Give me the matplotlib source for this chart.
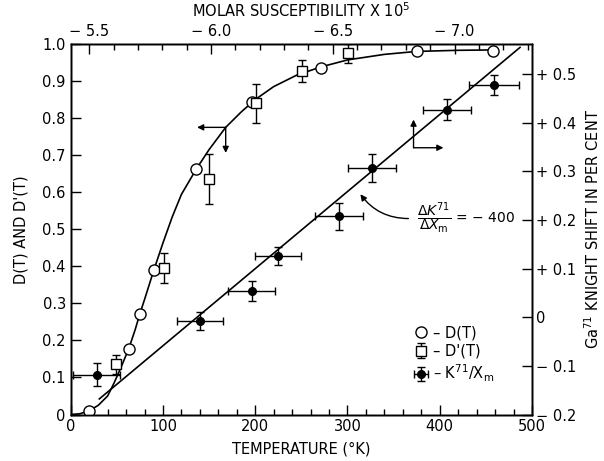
import matplotlib
matplotlib.use("Agg")
import matplotlib.pyplot as plt
from matplotlib.ticker import MultipleLocator, FixedLocator

# === DATA ===
# D(T) open circles
dt_temp = [20, 63, 75, 90, 136, 196, 271, 375, 458]
dt_val = [0.01, 0.178, 0.272, 0.389, 0.662, 0.843, 0.936, 0.98, 0.98]

# D'(T) squares with vertical error bars
dp_temp = [49, 101, 150, 201, 251, 301]
dp_val = [0.135, 0.395, 0.636, 0.84, 0.927, 0.975]
dp_err = [0.025, 0.04, 0.068, 0.053, 0.03, 0.025]

# K71 / Xm points on right axis (per cent)
k_temp = [28, 140, 196, 225, 291, 327, 408, 459]
k_val = [-0.118, -0.008, 0.054, 0.126, 0.208, 0.307, 0.427, 0.478]
k_xerr = [25, 25, 25, 25, 26, 26, 26, 27]
k_yerr = [0.024, 0.019, 0.02, 0.019, 0.028, 0.028, 0.021, 0.02]

# hand drawn curve through D(T)
curve_temp = [0, 10, 20, 30, 40, 47, 55, 63, 70, 75, 80, 90, 100, 110, 120,
              136, 150, 168, 185, 200, 220, 245, 271, 300, 340, 375, 420, 458]
curve_val = [0.0, 0.002, 0.01, 0.025, 0.05, 0.085, 0.13, 0.178, 0.23, 0.272,
             0.31, 0.389, 0.463, 0.533, 0.594, 0.662, 0.715, 0.775, 0.817,
             0.85, 0.885, 0.916, 0.938, 0.957, 0.972, 0.98, 0.983, 0.984]

# straight line through K points
line_temp = [31, 487]
line_val = [-0.168, 0.555]

# axis ranges / ticks
T_RANGE = (0, 500)
D_RANGE = (0, 1.0)
K_RANGE = (-0.2, 0.562)
CHI_RANGE = (-5.424, -7.318)

d_ticks = [0, 0.1, 0.2, 0.3, 0.4, 0.5, 0.6, 0.7, 0.8, 0.9, 1.0]
d_labels = ["0", "0.1", "0.2", "0.3", "0.4", "0.5", "0.6", "0.7", "0.8", "0.9", "1.0"]
k_ticks = [-0.2, -0.1, 0, 0.1, 0.2, 0.3, 0.4, 0.5]
k_labels = ["\u2212 0.2", "\u2212 0.1", "0", "+ 0.1", "+ 0.2", "+ 0.3", "+ 0.4", "+ 0.5"]
chi_ticks = [-5.5, -6.0, -6.5, -7.0]
chi_labels = ["\u2212 5.5", "\u2212 6.0", "\u2212 6.5", "\u2212 7.0"]

plt.rcParams['font.family'] = ['DejaVu Sans']
plt.rcParams['mathtext.fontset'] = 'dejavusans'
FS = 10.5

fig = plt.figure(figsize=(6.04, 4.61), dpi=100)
ax = fig.add_axes([70.7 / 604, 1 - 414.5 / 461, (532 - 70.7) / 604, (414.5 - 44) / 461])
ax2 = ax.twinx()
axt = ax.twiny()

# --- left axis: D(T), D'(T) ---
ax.plot(curve_temp, curve_val, color='black', lw=1.2, zorder=2)
h1, = ax.plot(dt_temp, dt_val, 'o', ms=8, mfc='white', mec='black', mew=1.0, zorder=4)
h2 = ax.errorbar(dp_temp, dp_val, yerr=dp_err, fmt='s', ms=7, mfc='white', mec='black',
                 mew=1.0, ecolor='black', elinewidth=1.0, capsize=3, zorder=4)

ax.set_xlim(*T_RANGE)
ax.set_ylim(*D_RANGE)
ax.xaxis.set_major_locator(MultipleLocator(100))
ax.xaxis.set_minor_locator(MultipleLocator(20))
ax.set_yticks(d_ticks)
ax.set_yticklabels(d_labels)
ax.tick_params(axis='both', which='major', direction='in', length=7, width=1, labelsize=FS)
ax.tick_params(axis='x', which='minor', direction='in', length=4, width=1)
ax.tick_params(axis='y', which='both', right=False)
ax.set_xlabel("TEMPERATURE (\u00b0K)", fontsize=FS, labelpad=5)
ax.set_ylabel("D(T) AND D'(T)", fontsize=FS, labelpad=10)

# quantity arrows for the D curve
arr = dict(arrowstyle='-|>', color='black', lw=1.0, mutation_scale=9, shrinkA=0, shrinkB=0)
ax.annotate('', xy=(137, 0.775), xytext=(168, 0.775), arrowprops=arr)
ax.annotate('', xy=(168, 0.706), xytext=(168, 0.775), arrowprops=arr)

# --- right axis: Knight shift ---
ax2.plot(line_temp, line_val, color='black', lw=1.2, zorder=2)
h3 = ax2.errorbar(k_temp, k_val, xerr=k_xerr, yerr=k_yerr, fmt='o', ms=5.5,
                  color='black', ecolor='black', elinewidth=1.0, capsize=3, zorder=4)
ax2.set_ylim(*K_RANGE)
ax2.set_yticks(k_ticks)
ax2.set_yticklabels(k_labels)
ax2.tick_params(axis='y', direction='in', length=7, width=1, labelsize=FS, pad=3)
ax2.set_ylabel("Ga$^{71}$ KNIGHT SHIFT IN PER CENT", fontsize=FS, labelpad=5)

ax2.annotate('', xy=(371.6, -0.2 + 0.762 * 0.796), xytext=(371.6, -0.2 + 0.762 * 0.72), arrowprops=arr)
ax2.annotate('', xy=(404, -0.2 + 0.762 * 0.72), xytext=(371.6, -0.2 + 0.762 * 0.72), arrowprops=arr)

# slope annotation
ax2.annotate('', xy=(314, 0.253), xytext=(366, 0.203),
             arrowprops=dict(arrowstyle='-|>', color='black', lw=1.0, mutation_scale=9,
                             shrinkA=0, shrinkB=0, connectionstyle='arc3,rad=-0.25'))
ax2.text(375, 0.203, r"$\dfrac{\Delta K^{71}}{\Delta X_\mathrm{m}}$" + " = \u2212 400", fontsize=FS - 0.5,
         ha='left', va='center')

# legend
leg = ax2.legend([h1, h2, h3], ["\u2013 D(T)", "\u2013 D'(T)", "\u2013 K$^{71}$/X$_\\mathrm{m}$"],
                 loc='upper left', bbox_to_anchor=(412.8 / 604, 1 - 325 / 461),
                 bbox_transform=fig.transFigure, frameon=False, fontsize=FS,
                 handlelength=1.1, handletextpad=0.3, labelspacing=0.25, borderpad=0,
                 borderaxespad=0)

# --- top axis: molar susceptibility ---
axt.set_xlim(*CHI_RANGE)
axt.xaxis.set_major_locator(FixedLocator(chi_ticks))
axt.set_xticklabels(chi_labels)
axt.xaxis.set_minor_locator(MultipleLocator(0.1))
axt.tick_params(axis='x', which='major', direction='in', length=7, width=1, labelsize=FS)
axt.tick_params(axis='x', which='minor', direction='in', length=4, width=1)
axt.set_xlabel("MOLAR SUSCEPTIBILITY X 10$^5$", fontsize=FS, labelpad=5)

for a in (ax, ax2, axt):
    for s in a.spines.values():
        s.set_linewidth(1.0)

fig.savefig("out.png", dpi=100)
